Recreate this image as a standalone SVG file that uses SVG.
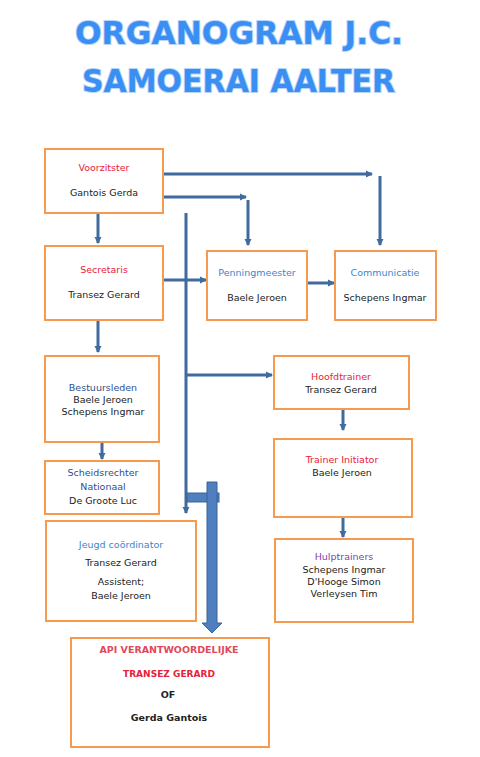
<svg xmlns="http://www.w3.org/2000/svg" width="480" height="757" viewBox="0 0 480 757">
<style>
.box{fill:#fff;stroke:#f59a4f;stroke-width:2}
text{font-family:"DejaVu Sans","Liberation Sans",sans-serif;font-size:9.5px;text-anchor:middle;fill:#222}
.red{fill:#e6223a}
.blue{fill:#3b87c9}
.navy{fill:#2f4f8f}
.purple{fill:#7b3fb0}
.b{font-weight:bold}
.title{font-size:32px;font-weight:bold;fill:#3b8ef2;stroke:#b7d6fa;stroke-width:2;paint-order:stroke;text-anchor:start}
.ln{fill:none;stroke:#3f6b9e;stroke-width:3}
.blk{fill:#4f7fbf;stroke:#3a6498;stroke-width:1}
</style>
<defs>
<marker id="ah" markerUnits="userSpaceOnUse" markerWidth="8" markerHeight="8" refX="6" refY="4" orient="auto">
<path d="M0,0.5 L7,4 L0,7.5 z" fill="#3f6b9e"/>
</marker>
</defs>
<rect width="480" height="757" fill="#fff"/>
<g id="title">
<text class="title" x="75" y="44" textLength="328" lengthAdjust="spacingAndGlyphs">ORGANOGRAM J.C.</text>
<text class="title" x="82" y="92" textLength="313" lengthAdjust="spacingAndGlyphs">SAMOERAI AALTER</text>
</g>
<g id="connectors">
<path class="ln" d="M163,174 H372" marker-end="url(#ah)"/>
<path class="ln" d="M380,176 V245" marker-end="url(#ah)"/>
<path class="ln" d="M163,197 H246" marker-end="url(#ah)"/>
<path class="ln" d="M248,200 V245" marker-end="url(#ah)"/>
<path class="ln" d="M98,214 V243" marker-end="url(#ah)"/>
<path class="ln" d="M163,280 H206" marker-end="url(#ah)"/>
<path class="ln" d="M307,283 H334" marker-end="url(#ah)"/>
<path class="ln" d="M186,213 V513" marker-end="url(#ah)"/>
<path class="ln" d="M186,375 H272" marker-end="url(#ah)"/>
<path class="ln" d="M98,321 V352" marker-end="url(#ah)"/>
<path class="ln" d="M102,443 V459" marker-end="url(#ah)"/>
<path class="ln" d="M343,410 V430" marker-end="url(#ah)"/>
<path class="ln" d="M343,510 V537" marker-end="url(#ah)"/>
<rect class="blk" x="187" y="493" width="32" height="9"/>
<path class="blk" d="M207,482 H217 V623 H222 L212,633 L202,623 H207 Z"/>
</g>
<g id="voorzitster">
<rect class="box" x="45" y="149" width="118" height="64"/>
<text class="red" x="104" y="171">Voorzitster</text>
<text x="104" y="196">Gantois Gerda</text>
</g>
<g id="secretaris">
<rect class="box" x="45" y="246" width="118" height="74"/>
<text class="red" x="104" y="273">Secretaris</text>
<text x="104" y="298">Transez Gerard</text>
</g>
<g id="penningmeester">
<rect class="box" x="207" y="251" width="100" height="69"/>
<text class="blue" x="257" y="276">Penningmeester</text>
<text x="257" y="301">Baele Jeroen</text>
</g>
<g id="communicatie">
<rect class="box" x="335" y="251" width="101" height="69"/>
<text class="blue" x="385" y="276">Communicatie</text>
<text x="385" y="301">Schepens Ingmar</text>
</g>
<g id="bestuursleden">
<rect class="box" x="45" y="356" width="114" height="86"/>
<text class="navy" x="103" y="391">Bestuursleden</text>
<text x="103" y="403">Baele Jeroen</text>
<text x="103" y="415">Schepens Ingmar</text>
</g>
<g id="scheidsrechter">
<rect class="box" x="45" y="461" width="114" height="53"/>
<text class="navy" x="103" y="476">Scheidsrechter</text>
<text class="navy" x="103" y="490">Nationaal</text>
<text x="103" y="504">De Groote Luc</text>
</g>
<g id="hoofdtrainer">
<rect class="box" x="274" y="356" width="135" height="53"/>
<text class="red" x="341" y="380">Hoofdtrainer</text>
<text x="341" y="393">Transez Gerard</text>
</g>
<g id="trainer-initiator">
<rect class="box" x="274" y="439" width="138" height="78"/>
<text class="red" x="342" y="463">Trainer Initiator</text>
<text x="342" y="476">Baele Jeroen</text>
</g>
<g id="hulptrainers">
<rect class="box" x="275" y="539" width="138" height="83"/>
<text class="purple" x="344" y="560">Hulptrainers</text>
<text x="344" y="573">Schepens Ingmar</text>
<text x="344" y="585">D'Hooge Simon</text>
<text x="344" y="597">Verleysen Tim</text>
</g>
<g id="jeugd-coordinator">
<rect class="box" x="46" y="521" width="150" height="100"/>
<text class="blue" x="121" y="548">Jeugd coördinator</text>
<text x="121" y="566">Transez Gerard</text>
<text x="121" y="585">Assistent;</text>
<text x="121" y="599">Baele Jeroen</text>
</g>
<g id="api">
<rect class="box" x="71" y="638" width="198" height="109"/>
<text class="b" x="169" y="653" fill="#e0485c" style="fill:#e0485c" textLength="139" lengthAdjust="spacingAndGlyphs">API  VERANTWOORDELIJKE</text>
<text class="b red" x="169" y="677" textLength="92" lengthAdjust="spacingAndGlyphs">TRANSEZ GERARD</text>
<text class="b" x="168" y="698">OF</text>
<text class="b" x="169" y="721">Gerda Gantois</text>
</g>
</svg>
